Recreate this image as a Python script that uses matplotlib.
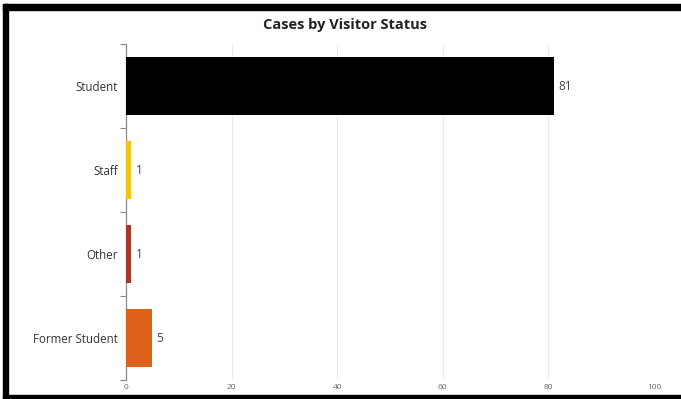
import matplotlib.pyplot as plt
from matplotlib.patches import Rectangle

plt.rcParams['font.family'] = ['Open Sans', 'DejaVu Sans']

# Visitor status counts (top to bottom)
statuses = ['Student', 'Staff', 'Other', 'Former Student']
cases = [81, 1, 1, 5]
colors = ['#000000', '#F2C318', '#A5372A', '#DD6119']
xticks = [0, 20, 40, 60, 80, 100]

fig = plt.figure(figsize=(6.81, 3.99), dpi=100)
ax = fig.add_axes([126 / 681, (399 - 380) / 399, 528 / 681, 336 / 399])

ypos = list(range(len(statuses)))
ax.barh(ypos, cases, height=0.7, color=colors, zorder=3)
ax.set_ylim(len(statuses) - 0.5, -0.5)
ax.set_xlim(0, 100)

# value labels at the end of each bar
for y, v in zip(ypos, cases):
    ax.text(v + 0.8, y, str(v), va='center', ha='left', fontsize=8.5, color='#444444')

# light vertical gridlines
for t in xticks[1:]:
    ax.axvline(t, color='#EBEBEB', lw=0.8, zorder=0)

ax.set_xticks(xticks)
ax.set_xticklabels([str(t) for t in xticks])
ax.tick_params(axis='x', length=0, labelsize=6, labelcolor='#666666', pad=3)

# ticks on the y spine sit between categories
ax.set_yticks([i - 0.5 for i in range(len(statuses) + 1)], minor=False)
ax.set_yticklabels([''] * (len(statuses) + 1))
ax.tick_params(axis='y', length=4, width=0.8, color='#888888', direction='out')
ax.set_yticks(ypos, minor=True)
ax.set_yticklabels(statuses, minor=True)
ax.tick_params(axis='y', which='minor', length=0, labelsize=8.3, labelcolor='#333333', pad=6)

for side in ['top', 'right', 'bottom']:
    ax.spines[side].set_visible(False)
ax.spines['left'].set_color('#888888')
ax.spines['left'].set_linewidth(0.9)

fig.text(345 / 681, 1 - 25 / 399, 'Cases by Visitor Status', ha='center', va='center',
         fontsize=10.5, fontweight='bold', color='#222222')

# black frame around the screenshot
W, H = 681, 399
fig.patches.append(Rectangle((3 / W, 1 - 10 / H), 1, 6 / H, transform=fig.transFigure,
                             color='black', zorder=10))
fig.patches.append(Rectangle((3 / W, 0), 5 / W, 1 - 4 / H, transform=fig.transFigure,
                             color='black', zorder=10))
fig.patches.append(Rectangle((3 / W, 1 / H), 1, 3 / H, transform=fig.transFigure,
                             color='black', zorder=10))

fig.savefig('out.png', dpi=100)
